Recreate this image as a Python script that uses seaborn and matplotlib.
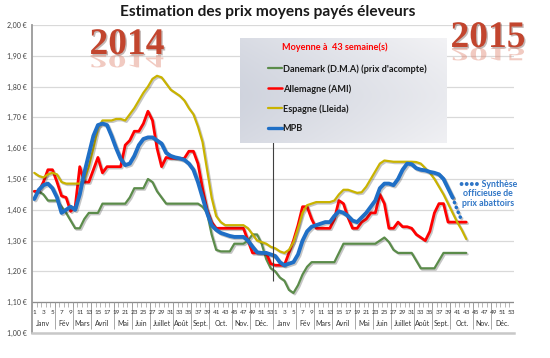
import numpy as np
import pandas as pd
import seaborn as sns
import matplotlib.pyplot as plt
import matplotlib.patheffects as pe
from matplotlib.lines import Line2D
from matplotlib.textpath import TextPath
from matplotlib.patches import PathPatch
from matplotlib.font_manager import FontProperties
from matplotlib.transforms import Affine2D, IdentityTransform

# Prix hebdomadaires (EUR/kg), semaines 1..53 de 2014 puis 1..43 de 2015
danemark_2014 = [1.46, 1.46, 1.45, 1.43, 1.43, 1.43, 1.41, 1.39, 1.365, 1.34,
                 1.34, 1.37, 1.39, 1.39, 1.39, 1.42, 1.42, 1.42, 1.42, 1.42,
                 1.42, 1.44, 1.47, 1.47, 1.47, 1.50, 1.49, 1.46, 1.44, 1.42,
                 1.42, 1.42, 1.42, 1.42, 1.42, 1.42, 1.42, 1.41, 1.39, 1.32,
                 1.27, 1.265, 1.265, 1.265, 1.29, 1.29, 1.29, 1.30, 1.32, 1.32,
                 1.29, 1.24, 1.21]
danemark_2015 = [1.20, 1.18, 1.17, 1.14, 1.13, 1.155, 1.19, 1.215, 1.23, 1.23,
                 1.23, 1.23, 1.23, 1.23, 1.26, 1.29, 1.29, 1.29, 1.29, 1.29,
                 1.29, 1.29, 1.29, 1.30, 1.31, 1.295, 1.27, 1.26, 1.26, 1.26,
                 1.26, 1.235, 1.21, 1.21, 1.21, 1.21, 1.235, 1.26, 1.26, 1.26,
                 1.26, 1.26, 1.26]
allemagne_2014 = [1.46, 1.46, 1.49, 1.53, 1.53, 1.49, 1.445, 1.44, 1.395, 1.41,
                  1.54, 1.49, 1.49, 1.53, 1.57, 1.52, 1.54, 1.54, 1.54, 1.54,
                  1.61, 1.625, 1.655, 1.655, 1.68, 1.72, 1.69, 1.60, 1.54, 1.57,
                  1.567, 1.567, 1.567, 1.567, 1.59, 1.59, 1.55, 1.47, 1.40, 1.36,
                  1.34, 1.34, 1.34, 1.34, 1.34, 1.34, 1.34, 1.30, 1.26, 1.26,
                  1.26, 1.26, 1.225]
allemagne_2015 = [1.22, 1.22, 1.22, 1.26, 1.30, 1.35, 1.41, 1.41, 1.37, 1.34,
                  1.34, 1.34, 1.34, 1.37, 1.43, 1.42, 1.375, 1.34, 1.34, 1.36,
                  1.37, 1.39, 1.39, 1.45, 1.42, 1.34, 1.34, 1.36, 1.345, 1.345,
                  1.34, 1.32, 1.31, 1.30, 1.33, 1.39, 1.42, 1.42, 1.36, 1.36,
                  1.36, 1.36, 1.36]
espagne_2014 = [1.52, 1.51, 1.505, 1.515, 1.52, 1.515, 1.49, 1.485, 1.485, 1.485,
                1.485, 1.50, 1.54, 1.60, 1.665, 1.69, 1.69, 1.69, 1.695, 1.695,
                1.69, 1.71, 1.73, 1.755, 1.78, 1.80, 1.825, 1.835, 1.83, 1.81,
                1.79, 1.78, 1.77, 1.755, 1.73, 1.71, 1.67, 1.62, 1.53, 1.44,
                1.38, 1.36, 1.35, 1.35, 1.35, 1.35, 1.35, 1.34, 1.32, 1.30,
                1.295, 1.29, 1.28]
espagne_2015 = [1.275, 1.265, 1.26, 1.27, 1.295, 1.34, 1.39, 1.415, 1.42, 1.425,
                1.425, 1.425, 1.425, 1.43, 1.45, 1.465, 1.465, 1.46, 1.455, 1.457,
                1.475, 1.50, 1.525, 1.55, 1.56, 1.558, 1.556, 1.556, 1.556, 1.556,
                1.556, 1.555, 1.55, 1.535, 1.52, 1.50, 1.475, 1.45, 1.42, 1.39,
                1.36, 1.335, 1.305]
mpb_2014 = [1.435, 1.465, 1.48, 1.485, 1.47, 1.44, 1.39, 1.40, 1.41, 1.40,
            1.45, 1.52, 1.58, 1.64, 1.675, 1.68, 1.675, 1.64, 1.60, 1.565,
            1.545, 1.55, 1.575, 1.61, 1.63, 1.635, 1.635, 1.625, 1.615, 1.585,
            1.575, 1.57, 1.567, 1.562, 1.55, 1.53, 1.49, 1.44, 1.39, 1.35,
            1.335, 1.325, 1.32, 1.315, 1.312, 1.312, 1.312, 1.30, 1.28, 1.262,
            1.26, 1.26, 1.255]
mpb_2015 = [1.25, 1.23, 1.22, 1.225, 1.23, 1.255, 1.30, 1.33, 1.345, 1.35,
            1.355, 1.36, 1.36, 1.38, 1.395, 1.39, 1.38, 1.365, 1.36, 1.375,
            1.39, 1.41, 1.43, 1.47, 1.485, 1.485, 1.48, 1.50, 1.53, 1.55,
            1.548, 1.535, 1.53, 1.528, 1.523, 1.52, 1.515, 1.50, 1.47, 1.44]
# synthese officieuse, semaines 40 a 42 de 2015
mpb_synthese_sem = [40, 41, 42]
mpb_synthese = [1.44, 1.40, 1.365]

mois = ['Janv', 'Fév', 'Mars', 'Avril', 'Mai', 'Juin', 'Juillet', 'Août',
        'Sept.', 'Oct.', 'Nov.', 'Déc.']
mois_fin = [5, 9, 13, 18, 22, 26, 31, 35, 39, 44, 48, 53]  # derniere semaine de chaque mois
nb_sem = 53

series = ['Danemark (D.M.A) (prix d\'acompte)', 'Allemagne (AMI)', 'Espagne (Lleida)', 'MPB']
couleurs = ['#5b8c4a', '#ff0000', '#c9b300', '#1f6fc6']
epaisseurs = [1.6, 2.0, 1.6, 2.8]

valeurs = [danemark_2014 + danemark_2015, allemagne_2014 + allemagne_2015,
           espagne_2014 + espagne_2015, mpb_2014 + mpb_2015]
df = pd.concat([pd.DataFrame({'pos': np.arange(len(v)), 'prix': v, 'serie': s})
                for s, v in zip(series, valeurs)], ignore_index=True)

sns.set_theme(style='white')
plt.rcParams['font.family'] = ['Lato', 'DejaVu Sans']

fig = plt.figure(figsize=(5.5, 3.58), dpi=100)
ax = fig.add_axes([32 / 550, 25 / 358, 482 / 550, 308 / 358])

sns.lineplot(data=df, x='pos', y='prix', hue='serie', hue_order=series,
             palette=dict(zip(series, couleurs)), size='serie',
             sizes=dict(zip(series, epaisseurs)), size_order=series,
             sort=False, estimator=None, legend=False, ax=ax)
sns.lineplot(x=[nb_sem + s - 1 for s in mpb_synthese_sem], y=mpb_synthese,
             color=couleurs[3], lw=2.6, linestyle=(0, (0.05, 1.4)),
             dash_capstyle='round', ax=ax)
for ln in ax.lines:
    ln.set_path_effects([pe.SimpleLineShadow(offset=(1, -1), alpha=0.25),
                         pe.Normal()])

# axes
ax.set_xlim(-0.5, 2 * nb_sem - 0.5)
ax.set_ylim(1.0, 2.0)
yt = np.round(np.arange(1.0, 2.01, 0.1), 2)
ax.set_yticks(yt)
ax.set_yticklabels([f'{v:.2f} €'.replace('.', ',') for v in yt],
                   fontsize=5, color='#404040')
ax.tick_params(axis='y', length=0, pad=4)
ax.set_xticks([])
ax.set_xlabel('')
ax.set_ylabel('')
ax.grid(axis='y', color='#d9d9d9', lw=0.9)
for sp in ['top', 'right']:
    ax.spines[sp].set_visible(False)
ax.spines['left'].set_color('#9a9a9a')
ax.spines['left'].set_linewidth(1.3)
ax.spines['bottom'].set_color('#c8c8c8')
ax.spines['bottom'].set_linewidth(1.8)
ax.axhline(1.10, color='#8c8c8c', lw=0.9, zorder=2)

# axe des categories (semaines + mois) dessine dans la zone 1,00-1,10
ax.vlines(np.arange(-0.5, 2 * nb_sem, 1), 1.083, 1.10, color='#9a9a9a', lw=0.5)
for an in range(2):
    off = an * nb_sem
    for w in range(1, nb_sem + 1, 2):
        ax.text(off + w - 1, 1.067, str(w), ha='center', va='center',
                fontsize=4.6, color='#333333')
    debut = 1
    for m, fin in zip(mois, mois_fin):
        ax.text(off + (debut + fin) / 2 - 1, 1.03, m, ha='center', va='center',
                fontsize=5, color='#333333')
        ax.vlines(off + fin - 0.5, 1.012, 1.10, color='#9a9a9a', lw=0.6)
        debut = fin + 1

# separation 2014 / 2015
ax.vlines(nb_sem - 0.5, 1.17, 1.65, color='#404040', lw=0.8, zorder=5)

# cadre de la legende avec degrade
box = fig.add_axes([240 / 550, (358 - 143) / 358, 207 / 550, 105 / 358], zorder=5)
gx = np.linspace(0, 1, 200)[None, :]
gy = np.linspace(0, 1, 100)[:, None]
t = np.clip(0.25 + 0.55 * gx + 0.5 * np.abs(gy - 0.55) ** 1.5, 0, 1)
c1 = np.array([0.77, 0.79, 0.84])
c2 = np.array([0.95, 0.95, 0.96])
grad = c1 + (c2 - c1) * t[..., None]
box.imshow(grad, aspect='auto', extent=[0, 1, 0, 1])
box.set_axis_off()

handles = [Line2D([], [], color=c, lw=w) for c, w in zip(couleurs, [1.6, 1.8, 1.6, 2.4])]
leg = box.legend(handles, series, loc='upper left',
                 bbox_to_anchor=(268 / 550, (358 - 64) / 358),
                 bbox_transform=fig.transFigure, frameon=False,
                 handlelength=1.5, handletextpad=0.1, labelspacing=1.15,
                 borderpad=0, borderaxespad=0,
                 prop={'size': 6.6, 'weight': 'bold'})
for txt in leg.get_texts():
    txt.set_color('#1a1a1a')
fig.text(282 / 550, 1 - 47 / 358, 'Moyenne à  43 semaine(s)', color='#ff0000',
         fontsize=6.6, fontweight='bold', va='center', ha='left', zorder=6)

# titre
fig.text(268 / 550, 1 - 12 / 358, 'Estimation des prix moyens payés éleveurs',
         ha='center', va='center', fontsize=11.2, fontweight='bold', color='#1a1a1a')

# annees avec reflet
fp = FontProperties(family='Liberation Serif', weight='bold')
for an, cx, base in [('2014', 127, 54), ('2015', 488, 47)]:
    tp = TextPath((0, 0), an, size=37.5, prop=fp)
    ext = tp.get_extents()
    tr = (Affine2D().translate(-ext.x0 - ext.width / 2, 0)
          .scale(1, -0.5).translate(cx, 358 - base - 1))
    fig.add_artist(PathPatch(tr.transform_path(tp), transform=IdentityTransform(),
                             fc='#e08a76', ec='none', alpha=0.45, zorder=6))
    fig.text(cx / 550, 1 - base / 358, an, ha='center', va='baseline',
             fontsize=27, fontweight='bold', family='Liberation Serif',
             color='#c2452e', zorder=7,
             path_effects=[pe.withSimplePatchShadow(offset=(1, -1), alpha=0.3)])

# note synthese
fig.text(488 / 550, 1 - 194 / 358, '•••• Synthèse\nofficieuse de\nprix abattoirs',
         ha='center', va='center', fontsize=6.3, fontweight='bold',
         color='#2e75c6', linespacing=1.05)

fig.savefig('out.png', dpi=100)
